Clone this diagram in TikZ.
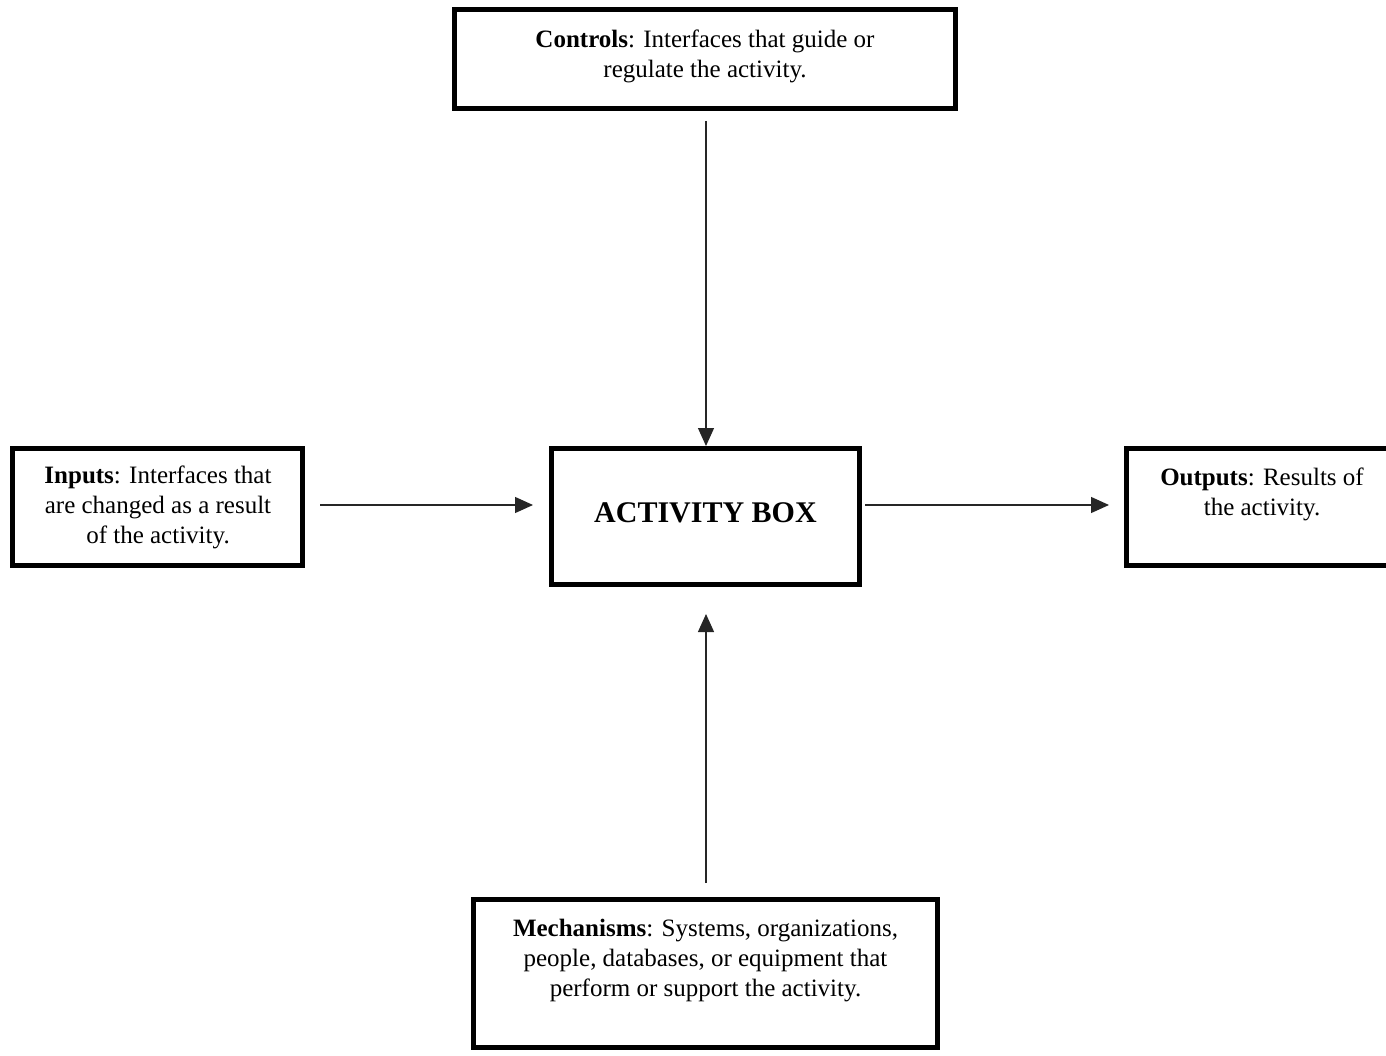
\documentclass[tikz,border=0pt]{standalone}
\usepackage{fontspec}
\setmainfont{Liberation Serif}
\usetikzlibrary{arrows.meta}
\begin{document}
\begin{tikzpicture}[x=1pt, y=-1pt,
  frame/.style={draw=black, line width=5pt, inner sep=0pt},
  desc/.style={align=center, font=\fontsize{25}{30}\selectfont, inner sep=0pt},
  flow/.style={draw=black!85, line width=1.2pt, -{Triangle[length=18pt, width=16pt]}}]
\useasboundingbox (0,0) rectangle (1386,1056);

% boxes
\node[frame, minimum width=501pt, minimum height=99pt] (controls) at (705,59) {};
\node[frame, minimum width=290pt, minimum height=117pt] (inputs) at (157.5,507) {};
\node[frame, minimum width=308pt, minimum height=136pt] (activity) at (705.5,516.5) {};
\node[frame, minimum width=300pt, minimum height=117pt] (outputs) at (1276.5,507) {};
\node[frame, minimum width=464pt, minimum height=148pt] (mechanisms) at (705.5,973.5) {};

% box texts
\node[desc] (controlsText) at (705,56) {\textbf{Controls}: Interfaces that guide or\\regulate the activity.};
\node[desc] (inputsText) at (158,507) {\textbf{Inputs}: Interfaces that\\are changed as a result\\of the activity.};
\node[align=center, inner sep=0pt, font=\fontsize{30}{30}\selectfont\bfseries] (activityText) at (705.5,513) {ACTIVITY BOX};
\node[desc] (outputsText) at (1262,494) {\textbf{Outputs}: Results of\\the activity.};
\node[desc] (mechanismsText) at (705.5,961) {\textbf{Mechanisms}: Systems, organizations,\\people, databases, or equipment that\\perform or support the activity.};

% connectors
\draw[flow, shorten <=10pt] ([xshift=1pt]controls.south) -- ([xshift=0.5pt]activity.north);
\draw[flow, shorten <=15pt, shorten >=16pt] ([yshift=2pt]inputs.east) -- ([yshift=2pt]inputs.east -| activity.west);
\draw[flow, shorten <=3pt, shorten >=15pt] ([yshift=2pt]inputs.east -| activity.east) -- ([yshift=2pt]inputs.east -| outputs.west);
\draw[flow, shorten <=14pt, shorten >=27pt] ([xshift=0.5pt]mechanisms.north) -- ([xshift=0.5pt]activity.south);
\end{tikzpicture}
\end{document}
